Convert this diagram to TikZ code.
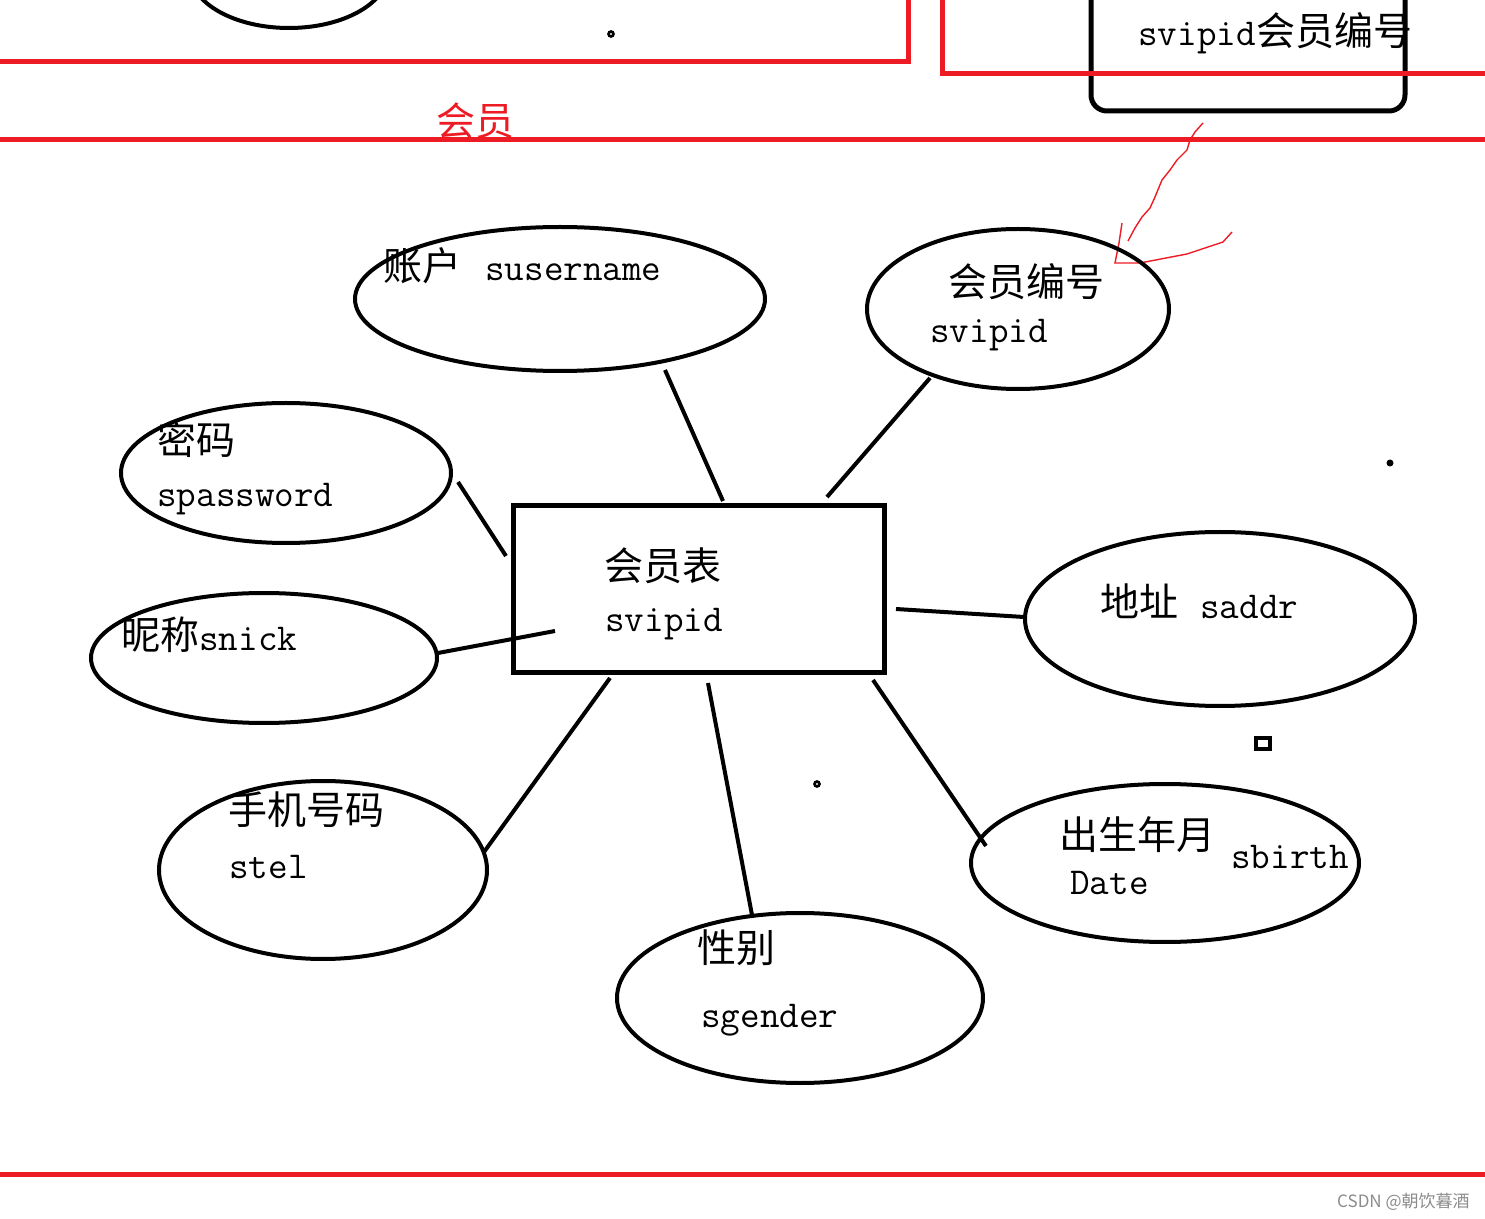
\documentclass[tikz,border=0pt]{standalone}
\usepackage{fontspec}
\newfontfamily\cjk{Noto Sans CJK SC}
\newfontfamily\wmfont{Noto Sans CJK SC}
\usetikzlibrary{shapes.geometric}
\definecolor{paintred}{RGB}{237,28,36}
\begin{document}
\begin{tikzpicture}[x=0.5pt,y=-0.5pt,
  attr/.style={ellipse,draw,line width=2pt,inner sep=0pt},
  entity/.style={rectangle,draw,line width=2.5pt,inner sep=0pt},
  conn/.style={line width=2pt},
  redline/.style={draw=paintred,line width=2.5pt},
  lbl/.style={anchor=base west,inner sep=0pt,font=\fontsize{19pt}{19pt}\selectfont\ttfamily},
  clbl/.style={anchor=base west,inner sep=0pt,font=\fontsize{19.5pt}{19.5pt}\selectfont\cjk},
]
\useasboundingbox (0,0) rectangle (1485,1219);
\fill[white] (0,0) rectangle (1485,1219);

% ---- top fragments ----
\begin{scope}
\clip (0,0) rectangle (1485,1219);
\node[attr,minimum width=99pt,minimum height=56pt] (topell) at (289,-28) {};
\draw[line width=2.5pt,rounded corners=8pt] (1091,-20) -- (1091,111) -- (1405,111) -- (1405,-20);
\end{scope}
\node[lbl] (topsv) at (1138,46) {svipid};
\node[clbl] (topcn) at (1256,46) {会员编号};
\draw[redline] (908,0) -- (908,62) -- (0,62);
\draw[redline] (942,0) -- (942,74) -- (1485,74);
\draw[redline] (0,140) -- (1485,140);
\draw[redline] (0,1174) -- (1485,1174);
\node[clbl,text=paintred] (hy) at (436,136) {会员};
\node[circle,draw,line width=1.3pt,inner sep=0pt,minimum size=2.5pt] (dot1) at (611,34) {};

% ---- red freehand ----
\draw[paintred,line width=0.7pt] (1203,123) -- (1195,132) -- (1190,140) -- (1187,150) -- (1177,160) -- (1170,170) -- (1162,180) -- (1155,197) -- (1150,208) -- (1142,217) -- (1135,228) -- (1128,241);
\draw[paintred,line width=0.7pt] (1122,223) -- (1119,243) -- (1115,263) -- (1140,263) -- (1187,254) -- (1223,242) -- (1232,232);

% ---- entity ----
\node[entity,minimum width=185.5pt,minimum height=83.5pt] (ent) at (699,589) {};
\node[clbl] (entcn) at (604,581) {会员表};
\node[lbl] (entsv) at (605,632) {svipid};

% ---- attributes ----
\node[attr,minimum width=205pt,minimum height=72pt] (a1) at (560,299) {};
\node[clbl] (a1cn) at (383,281) {账户};
\node[lbl] (a1en) at (485,281) {susername};

\node[attr,minimum width=151pt,minimum height=80pt] (a2) at (1018,309) {};
\node[clbl] (a2cn) at (948,297) {会员编号};
\node[lbl] (a2en) at (930,343) {svipid};

\node[attr,minimum width=165pt,minimum height=70pt] (a3) at (286,473) {};
\node[clbl] (a3cn) at (157,455) {密码};
\node[lbl] (a3en) at (157,507) {spassword};

\node[attr,minimum width=173pt,minimum height=65pt] (a4) at (264,658) {};
\node[clbl] (a4cn) at (121,650) {昵称};
\node[lbl] (a4en) at (199,651) {snick};

\node[attr,minimum width=195pt,minimum height=87pt] (a5) at (1220,619) {};
\node[clbl] (a5cn) at (1100,617) {地址};
\node[lbl] (a5en) at (1200,619) {saddr};

\node[attr,minimum width=164pt,minimum height=89pt] (a6) at (323,870) {};
\node[clbl] (a6cn) at (228,825) {手机号码};
\node[lbl] (a6en) at (229,878) {stel};

\node[attr,minimum width=183pt,minimum height=85pt] (a7) at (800,998) {};
\node[clbl] (a7cn) at (697,962) {性别};
\node[lbl] (a7en) at (701,1027) {sgender};

\node[attr,minimum width=194pt,minimum height=79pt] (a8) at (1165,863) {};
\node[clbl] (a8cn) at (1059,849) {出生年月};
\node[lbl] (a8en) at (1070,894) {Date};
\node[lbl] (a8en2) at (1231,868) {sbirth};

% ---- connector endpoints ----
\coordinate (p1a) at (665,370); \coordinate (p1b) at (723,501);
\coordinate (p2a) at (930,378); \coordinate (p2b) at (827,497);
\coordinate (p3a) at (458,482); \coordinate (p3b) at (506,556);
\coordinate (p4a) at (438,653); \coordinate (p4b) at (555,631);
\coordinate (p5a) at (1024,617); \coordinate (p5b) at (896,609);
\coordinate (p6a) at (484,852); \coordinate (p6b) at (610,678);
\coordinate (p7a) at (752,915); \coordinate (p7b) at (708,683);
\coordinate (p8a) at (986,846); \coordinate (p8b) at (873,680);
\draw[conn] (p1a) -- (p1b);
\draw[conn] (p2a) -- (p2b);
\draw[conn] (p3a) -- (p3b);
\draw[conn] (p4a) -- (p4b);
\draw[conn] (p5a) -- (p5b);
\draw[conn] (p6a) -- (p6b);
\draw[conn] (p7a) -- (p7b);
\draw[conn] (p8a) -- (p8b);

% ---- small marks ----
\node[circle,fill=black,inner sep=0pt,minimum size=3.5pt] (dot2) at (1390,463) {};
\node[circle,draw,line width=1.3pt,inner sep=0pt,minimum size=2.5pt] (dot3) at (817,784) {};
\node[rectangle,draw,line width=2pt,inner sep=0pt,minimum width=7pt,minimum height=5.5pt] (sq) at (1263,743.5) {};

% ---- watermark ----
\node[anchor=base east,inner sep=0pt,text=black!45,font=\fontsize{8.5pt}{8.5pt}\selectfont\wmfont] (wm) at (1470,1207) {CSDN @朝饮暮酒};
\end{tikzpicture}
\end{document}
